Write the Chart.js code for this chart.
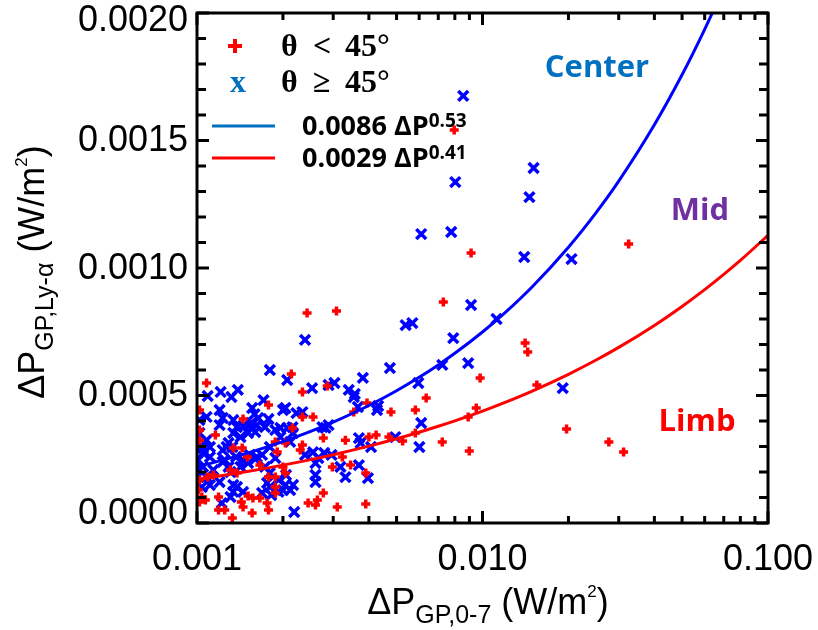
<!DOCTYPE html>
<html>
<head>
<meta charset="utf-8">
<script src="https://cdn.jsdelivr.net/npm/chart.js@4.4.1/dist/chart.umd.min.js"></script>
<style>
  html, body { margin: 0; padding: 0; background: #fff; }
  #wrap { width: 818px; height: 630px; position: relative; }
</style>
</head>
<body>
<div id="wrap"><canvas id="chart"></canvas></div>
<script>
// theta < 45 deg (red crosses)
const lowX = [
  0.00796, 0.00912, 0.0325, 0.00729, 0.0141, 0.0144, 0.00981, 0.0155, 0.00635, 0.00582,
  0.00951, 0.00891, 0.0197, 0.00582, 0.00723, 0.00899, 0.0277, 0.0312, 0.00525, 0.00243,
  0.00308, 0.00214, 0.00234, 0.00286, 0.00394, 0.00478, 0.00108, 0.00234, 0.00255, 0.00354,
  0.00277, 0.00331, 0.00400, 0.00424, 0.00470, 0.00234, 0.00230, 0.00298, 0.00345, 0.00390,
  0.00277, 0.00245, 0.00260, 0.00264, 0.00310, 0.00390, 0.00145, 0.00178, 0.00216, 0.00116,
  0.00102, 0.00102, 0.00134, 0.00144, 0.00150, 0.00191, 0.00323, 0.00204, 0.00188, 0.00188,
  0.00188, 0.00178, 0.00166, 0.00176, 0.00178, 0.00157, 0.00104, 0.00107, 0.00102, 0.00119,
  0.00133, 0.00145, 0.00156, 0.00151, 0.00166, 0.00131, 0.00138, 0.00114, 0.00109, 0.00188,
  0.00204, 0.00200, 0.00119, 0.00125, 0.00143, 0.00102, 0.00101, 0.00102
];
const lowY = [
  0.001541, 0.001059, 0.001094, 0.000867, 0.000706, 0.000671, 0.000569, 0.000541, 0.000490, 0.000443,
  0.000451, 0.000416, 0.000369, 0.000353, 0.000318, 0.000282, 0.000318, 0.000278, 0.000322, 0.000824,
  0.000831, 0.000584, 0.000514, 0.000537, 0.000471, 0.000435, 0.000549, 0.000416, 0.000416, 0.000435,
  0.000333, 0.000325, 0.000337, 0.000345, 0.000337, 0.000306, 0.000286, 0.000220, 0.000227, 0.000196,
  0.000118, 0.000078, 0.000071, 0.000090, 0.000063, 0.000075, 0.000408, 0.000463, 0.000373, 0.000345,
  0.000365, 0.000325, 0.000294, 0.000294, 0.000259, 0.000278, 0.000259, 0.000196, 0.000180, 0.000141,
  0.000118, 0.000180, 0.000098, 0.000078, 0.000051, 0.000098, 0.000102, 0.000090, 0.000082, 0.000051,
  0.000020, 0.000063, 0.000039, 0.000106, 0.000227, 0.000208, 0.000196, 0.000188, 0.000180, 0.000318,
  0.000314, 0.000220, 0.000102, 0.000051, 0.000082, 0.000169, 0.000129, 0.000443
];

// theta >= 45 deg (blue x)
const highX = [
  0.00856, 0.00803, 0.0151, 0.0146, 0.00610, 0.00777, 0.0140, 0.0205, 0.00912, 0.00538,
  0.00568, 0.0112, 0.00790, 0.00723, 0.00891, 0.00596, 0.0191, 0.00610, 0.00601, 0.00239,
  0.00474, 0.00180, 0.00207, 0.00253, 0.00289, 0.00303, 0.00381, 0.00340, 0.00357, 0.00366,
  0.00431, 0.00427, 0.00354, 0.00275, 0.00282, 0.00289, 0.00239, 0.00255, 0.00266, 0.00279,
  0.00296, 0.00260, 0.00260, 0.00260, 0.00318, 0.00331, 0.00369, 0.00397, 0.00369, 0.00374,
  0.00407, 0.00495, 0.00234, 0.00219, 0.00109, 0.00121, 0.00139, 0.00132, 0.00171, 0.00108,
  0.00120, 0.00123, 0.00134, 0.00156, 0.00159, 0.00164, 0.00178, 0.00155, 0.00200, 0.00223,
  0.00120, 0.00138, 0.00145, 0.00204, 0.00188, 0.00196, 0.00207, 0.00216, 0.00173, 0.00162,
  0.00142, 0.00151, 0.00160, 0.00134, 0.00108, 0.00111, 0.00105, 0.00123, 0.00127, 0.00133,
  0.00153, 0.00162, 0.00169, 0.00180, 0.00212, 0.00193, 0.00204, 0.00212, 0.00200, 0.00176,
  0.00180, 0.00169, 0.00145, 0.00134, 0.00131, 0.00138, 0.00120, 0.00111, 0.00104, 0.00108,
  0.00122, 0.00105, 0.00114, 0.00101, 0.00105, 0.00111, 0.00145, 0.00151, 0.00160, 0.00142,
  0.00173, 0.00180, 0.00123, 0.00129, 0.00100, 0.00100, 0.00129, 0.00155, 0.00196, 0.00217,
  0.00125, 0.00137, 0.00188, 0.00131, 0.00134, 0.00205, 0.00217, 0.00193, 0.00182, 0.00102,
  0.00102
];
const highY = [
  0.001675, 0.001337, 0.001392, 0.001278, 0.001133, 0.001141, 0.001043, 0.001035, 0.000855, 0.000776,
  0.000784, 0.000800, 0.000725, 0.000620, 0.000627, 0.000549, 0.000529, 0.000392, 0.000298, 0.000718,
  0.000608, 0.000600, 0.000561, 0.000529, 0.000541, 0.000549, 0.000569, 0.000522, 0.000506, 0.000455,
  0.000459, 0.000443, 0.000494, 0.000376, 0.000373, 0.000384, 0.000267, 0.000278, 0.000255, 0.000275,
  0.000267, 0.000235, 0.000188, 0.000161, 0.000220, 0.000180, 0.000227, 0.000176, 0.000333, 0.000314,
  0.000298, 0.000337, 0.000435, 0.000043, 0.000498, 0.000514, 0.000522, 0.000494, 0.000482, 0.000416,
  0.000443, 0.000412, 0.000404, 0.000451, 0.000427, 0.000412, 0.000408, 0.000392, 0.000443, 0.000431,
  0.000384, 0.000376, 0.000380, 0.000451, 0.000365, 0.000337, 0.000373, 0.000376, 0.000376, 0.000384,
  0.000337, 0.000353, 0.000357, 0.000353, 0.000325, 0.000298, 0.000294, 0.000286, 0.000298, 0.000298,
  0.000267, 0.000259, 0.000267, 0.000298, 0.000318, 0.000169, 0.000149, 0.000129, 0.000129, 0.000157,
  0.000141, 0.000118, 0.000122, 0.000122, 0.000102, 0.000141, 0.000161, 0.000149, 0.000141, 0.000180,
  0.000078, 0.000220, 0.000208, 0.000247, 0.000275, 0.000259, 0.000247, 0.000235, 0.000251, 0.000220,
  0.000220, 0.000196, 0.000239, 0.000220, 0.000208, 0.000180, 0.000314, 0.000373, 0.000373, 0.000353,
  0.000247, 0.000259, 0.000255, 0.000200, 0.000149, 0.000188, 0.000149, 0.000122, 0.000110, 0.000404,
  0.000353
];

// power-law fits quoted in the legend: y = a * x^b
const fitCoef = [0.0086, 0.0029];
const fitExp = [0.53, 0.41];
const fitX = [
  0.001, 0.0012, 0.0015, 0.002, 0.0025, 0.003, 0.004, 0.005, 0.006, 0.007, 0.008,
  0.01, 0.012, 0.015, 0.02, 0.025, 0.03, 0.04, 0.05, 0.06, 0.07, 0.08, 0.1
];

// axis ticks
const xTicks = [
  0.001, 0.002, 0.003, 0.004, 0.005, 0.006, 0.007, 0.008, 0.009,
  0.01, 0.02, 0.03, 0.04, 0.05, 0.06, 0.07, 0.08, 0.09, 0.1
];
const xMajor = [0.001, 0.01, 0.1];
const yLabels = [0, 0.0005, 0.001, 0.0015, 0.002];
const yStep = 0.0001;

const BLUE = '#0000ff';
const RED = '#ff0000';
const LEG_BLUE = '#0070c0';

const toPoints = (xs, ys) => xs.map((v, i) => ({ x: v, y: ys[i] }));
const fitPoints = (k) => fitX.map(v => ({ x: v, y: fitCoef[k] * Math.pow(v, fitExp[k]) }));

// text with sub/superscripts, laid out left to right around a centre point
function drawRich(ctx, parts, cx, cy) {
  let w = 0;
  parts.forEach(p => { ctx.font = p.font; w += ctx.measureText(p.t).width; });
  let x = cx - w / 2;
  parts.forEach(p => {
    ctx.font = p.font;
    ctx.fillText(p.t, x, cy + (p.dy || 0));
    x += ctx.measureText(p.t).width;
  });
}

// box, inward ticks, y labels (end labels pulled inside the box height)
const frame = {
  id: 'frame',
  afterDatasetsDraw(chart) {
    const { ctx, chartArea: a, scales } = chart;
    const xs = scales.x;
    const ys = scales.y;
    ctx.save();
    ctx.strokeStyle = '#000';
    ctx.lineWidth = 3;
    for (const v of xTicks) {
      const px = xs.getPixelForValue(v);
      const len = xMajor.includes(v) ? 12 : 7;
      ctx.beginPath();
      ctx.moveTo(px, a.bottom); ctx.lineTo(px, a.bottom - len);
      ctx.moveTo(px, a.top); ctx.lineTo(px, a.top + len);
      ctx.stroke();
    }
    for (let i = 0; i <= 20; i++) {
      const py = ys.getPixelForValue(i * yStep);
      const len = i % 5 === 0 ? 12 : 9;
      ctx.beginPath();
      ctx.moveTo(a.left, py); ctx.lineTo(a.left + len, py);
      ctx.moveTo(a.right, py); ctx.lineTo(a.right - len, py);
      ctx.stroke();
    }
    ctx.strokeRect(a.left, a.top, a.right - a.left, a.bottom - a.top);

    ctx.fillStyle = '#000';
    ctx.font = '36px "Liberation Sans"';
    ctx.textAlign = 'right';
    ctx.textBaseline = 'middle';
    yLabels.forEach((v, i) => {
      let py = ys.getPixelForValue(v);
      if (i === 0) py -= 10;
      if (i === yLabels.length - 1) py += 7;
      ctx.fillText(v.toFixed(4), a.left - 9, py + 1);
    });
    ctx.restore();
  },
  afterDraw(chart) {
    const { ctx } = chart;
    ctx.save();
    ctx.textBaseline = 'alphabetic';
    ctx.fillStyle = '#000';

    // axis titles
    const big = '36px "Liberation Sans"';
    const sub = '25px "Liberation Sans"';
    const sup = '17px "Liberation Sans"';
    drawRich(ctx, [
      { t: 'ΔP', font: big },
      { t: 'GP,0-7', font: sub, dy: 9 },
      { t: ' (W/m', font: big },
      { t: '2', font: sup, dy: -17 },
      { t: ')', font: big }
    ], 488, 614);
    ctx.save();
    ctx.translate(44, 272);
    ctx.rotate(-Math.PI / 2);
    drawRich(ctx, [
      { t: 'ΔP', font: big },
      { t: 'GP,Ly-α', font: sub, dy: 9 },
      { t: ' (W/m', font: big },
      { t: '2', font: sup, dy: -17 },
      { t: ')', font: big }
    ], 0, 0);
    ctx.restore();

    // legend: symbols
    ctx.strokeStyle = RED;
    ctx.lineWidth = 4;
    ctx.beginPath();
    ctx.moveTo(228, 46); ctx.lineTo(242, 46);
    ctx.moveTo(235, 39); ctx.lineTo(235, 53);
    ctx.stroke();

    ctx.font = 'bold 32px "Liberation Serif"';
    ctx.fillStyle = LEG_BLUE;
    ctx.textAlign = 'center';
    ctx.fillText('x', 238, 92);
    ctx.textAlign = 'left';
    ctx.fillStyle = '#000';
    [['θ', 281], ['<', 313], ['45°', 345]].forEach(([s, px]) => ctx.fillText(s, px, 56));
    [['θ', 281], ['≥', 313], ['45°', 345]].forEach(([s, px]) => ctx.fillText(s, px, 92));

    // legend: fit lines
    ctx.lineWidth = 3;
    ctx.strokeStyle = LEG_BLUE;
    ctx.beginPath(); ctx.moveTo(212, 126); ctx.lineTo(275, 126); ctx.stroke();
    ctx.strokeStyle = RED;
    ctx.beginPath(); ctx.moveTo(212, 158); ctx.lineTo(275, 158); ctx.stroke();

    const fitFont = 'bold 27px "Open Sans"';
    const expFont = 'bold 19px "Open Sans"';
    [[0, 135], [1, 167]].forEach(([k, base]) => {
      ctx.font = fitFont;
      const lead = fitCoef[k].toFixed(4) + ' ΔP';
      ctx.fillText(lead, 302, base);
      const w = ctx.measureText(lead).width;
      ctx.font = expFont;
      ctx.fillText(fitExp[k].toFixed(2), 302 + w, base - 8);
    });

    // region labels
    ctx.font = 'bold 31px "Open Sans"';
    ctx.textAlign = 'center';
    ctx.fillStyle = '#0070c0';
    ctx.fillText('Center', 597, 77);
    ctx.fillStyle = '#7030a0';
    ctx.fillText('Mid', 700, 220);
    ctx.fillStyle = RED;
    ctx.fillText('Limb', 697, 431);
    ctx.restore();
  }
};

new Chart(document.getElementById('chart'), {
  type: 'scatter',
  data: {
    datasets: [
      {
        type: 'line',
        data: fitPoints(0),
        borderColor: BLUE,
        borderWidth: 3,
        pointRadius: 0,
        cubicInterpolationMode: 'monotone',
        order: 0
      },
      {
        type: 'line',
        data: fitPoints(1),
        borderColor: RED,
        borderWidth: 3,
        pointRadius: 0,
        cubicInterpolationMode: 'monotone',
        order: 0
      },
      {
        data: toPoints(lowX, lowY),
        pointStyle: 'cross',
        pointRadius: 4.5,
        pointBorderWidth: 3.5,
        borderColor: RED,
        backgroundColor: RED,
        order: 1
      },
      {
        data: toPoints(highX, highY),
        pointStyle: 'crossRot',
        pointRadius: 7,
        pointBorderWidth: 3.5,
        borderColor: BLUE,
        backgroundColor: BLUE,
        order: 2
      }
    ]
  },
  options: {
    responsive: true,
    maintainAspectRatio: false,
    animation: false,
    events: [],
    layout: { padding: { left: 0, top: 13, right: 50, bottom: 0 } },
    plugins: {
      legend: { display: false },
      tooltip: { enabled: false }
    },
    scales: {
      x: {
        type: 'logarithmic',
        min: 0.001,
        max: 0.1,
        grid: { display: false, drawTicks: false },
        border: { display: false },
        afterBuildTicks: (s) => { s.ticks = xTicks.map(v => ({ value: v })); },
        afterFit: (s) => { s.height = 107; s.paddingLeft = 0; s.paddingRight = 0; },
        ticks: {
          autoSkip: false,
          maxRotation: 0,
          padding: 15,
          color: '#000',
          font: { family: 'Liberation Sans', size: 36 },
          callback: (v) => xMajor.includes(v) ? v.toFixed(3) : ''
        }
      },
      y: {
        min: 0,
        max: 0.002,
        grid: { display: false, drawTicks: false },
        border: { display: false },
        afterFit: (s) => { s.width = 197; s.paddingTop = 0; s.paddingBottom = 0; },
        ticks: { stepSize: yStep, display: false }
      }
    }
  },
  plugins: [frame]
});
</script>
</body>
</html>
